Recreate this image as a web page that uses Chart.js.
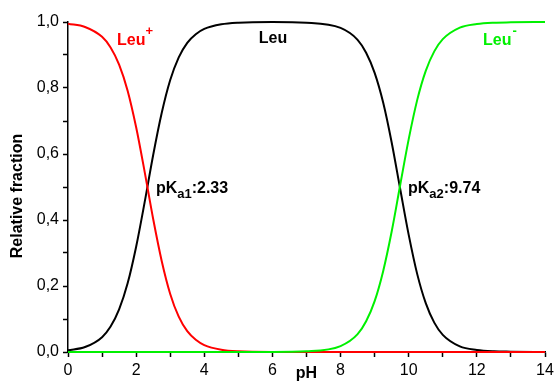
<!DOCTYPE html>
<html>
<head>
<meta charset="utf-8">
<script src="https://cdn.jsdelivr.net/npm/chart.js@4.4.1/dist/chart.umd.min.js"></script>
<style>
html,body{margin:0;padding:0;background:#fff;}
#wrap{width:555px;height:382px;position:relative;}
</style>
</head>
<body>
<div id="wrap"><canvas id="c" width="555" height="382"></canvas></div>
<script>
// pH grid (x values)
const ph = [0,0.5,1,1.25,1.5,1.75,2,2.25,2.5,2.75,3,3.25,3.5,3.75,4,4.5,5,6,7,8,8.5,8.75,9,9.25,9.5,9.75,10,10.25,10.5,10.75,11,11.5,12,12.5,13,14];
// Leu+ (red)
const leuPlus = [0.995,0.985,0.955,0.923,0.871,0.792,0.681,0.546,0.403,0.276,0.176,0.107,0.063,0.037,0.021,0.007,0.002,0,0,0,0,0,0,0,0,0,0,0,0,0,0,0,0,0,0,0];
// Leu (black)
const leu = [0.005,0.015,0.045,0.077,0.129,0.208,0.319,0.454,0.597,0.724,0.824,0.893,0.937,0.963,0.979,0.993,0.998,1.0,0.998,0.982,0.946,0.907,0.846,0.756,0.635,0.494,0.355,0.236,0.148,0.089,0.052,0.017,0.006,0.002,0.001,0];
// Leu- (green)
const leuMinus = [0,0,0,0,0,0,0,0,0,0,0,0,0,0,0,0,0,0,0.002,0.018,0.054,0.093,0.154,0.245,0.365,0.506,0.645,0.764,0.852,0.911,0.948,0.983,0.994,0.998,0.999,1.0];
// axis ticks
const xTicks = [0,2,4,6,8,10,12,14];
const yTicks = ['0,0','0,2','0,4','0,6','0,8','1,0'];

function pts(arr){ return ph.map((x,i)=>({x:x,y:arr[i]})); }

const FONT = "'Liberation Sans', Arial, sans-serif";
const GREEN = '#00f000';

const textPlugin = {
  id:'texts',
  afterDraw(chart){
    const ctx = chart.ctx, xs = chart.scales.x, ys = chart.scales.y, ca = chart.chartArea;
    ctx.save();
    ctx.textBaseline = 'alphabetic';
    ctx.textAlign = 'left';
    function run(parts, xv, yv, color){
      let x = xs.getPixelForValue(xv), y = ys.getPixelForValue(yv);
      for(const p of parts){
        ctx.font = 'bold ' + p.size + 'px ' + FONT;
        ctx.fillStyle = color;
        ctx.fillText(p.t, x, y + (p.dy||0));
        x += ctx.measureText(p.t).width + (p.gap||0);
      }
    }
    run([{t:'Leu',size:16},{t:'+',size:13,dy:-10}], 1.44, 0.930, '#ff0000');
    run([{t:'Leu',size:16}], 5.6, 0.936, '#000000');
    run([{t:'Leu',size:16,gap:1},{t:'-',size:13,dy:-10}], 12.18, 0.930, GREEN);
    run([{t:'pK',size:16},{t:'a1',size:13,dy:5},{t:':2.33',size:16}], 2.58, 0.482, '#000000');
    run([{t:'pK',size:16},{t:'a2',size:13,dy:5},{t:':9.74',size:16}], 9.98, 0.482, '#000000');
    // axis titles
    ctx.fillStyle = '#000';
    ctx.font = 'bold 16px ' + FONT;
    ctx.textAlign = 'center';
    ctx.fillText('pH', (ca.left+ca.right)/2, 378);
    ctx.translate(22, (ca.top+ca.bottom)/2 + 9);
    ctx.rotate(-Math.PI/2);
    ctx.fillText('Relative fraction', 0, 0);
    ctx.restore();
  }
};

new Chart(document.getElementById('c'), {
  type:'line',
  data:{
    datasets:[
      {label:'Leu-', data:pts(leuMinus), borderColor:GREEN, borderWidth:2, pointRadius:0, cubicInterpolationMode:'monotone', fill:false, clip:4},
      {label:'Leu+', data:pts(leuPlus), borderColor:'#ff0000', borderWidth:2, pointRadius:0, cubicInterpolationMode:'monotone', fill:false, clip:4},
      {label:'Leu', data:pts(leu), borderColor:'#000000', borderWidth:2, pointRadius:0, cubicInterpolationMode:'monotone', fill:false, clip:4}
    ]
  },
  options:{
    responsive:false,
    animation:false,
    devicePixelRatio:1,
    layout:{padding:{left:0,right:10,top:22,bottom:0}},
    plugins:{legend:{display:false}, tooltip:{enabled:false}},
    scales:{
      x:{
        type:'linear', min:0, max:14,
        afterFit(s){ s.height = 30; s.paddingLeft = 0; s.paddingRight = 0; },
        ticks:{stepSize:1, autoSkip:false, maxRotation:0, color:'#000', font:{family:FONT,size:16}, padding:4,
          callback:(v)=> xTicks.includes(v) ? String(v) : ''},
        grid:{drawOnChartArea:false, drawTicks:true, tickLength:5, tickColor:'#000', tickWidth:1.5},
        border:{display:true, color:'#000', width:1.5}
      },
      y:{
        type:'linear', min:0, max:1,
        afterFit(s){ s.width = 68; s.paddingTop = 0; s.paddingBottom = 0; },
        ticks:{stepSize:0.1, autoSkip:false, color:'#000', font:{family:FONT,size:16}, padding:4,
          callback:(v)=>{ const k = Math.round(v*10); return k%2===0 ? yTicks[k/2] : ''; }},
        grid:{drawOnChartArea:false, drawTicks:true, tickLength:5, tickColor:'#000', tickWidth:1.5},
        border:{display:true, color:'#000', width:1.5}
      }
    }
  },
  plugins:[textPlugin]
});
</script>
</body>
</html>
